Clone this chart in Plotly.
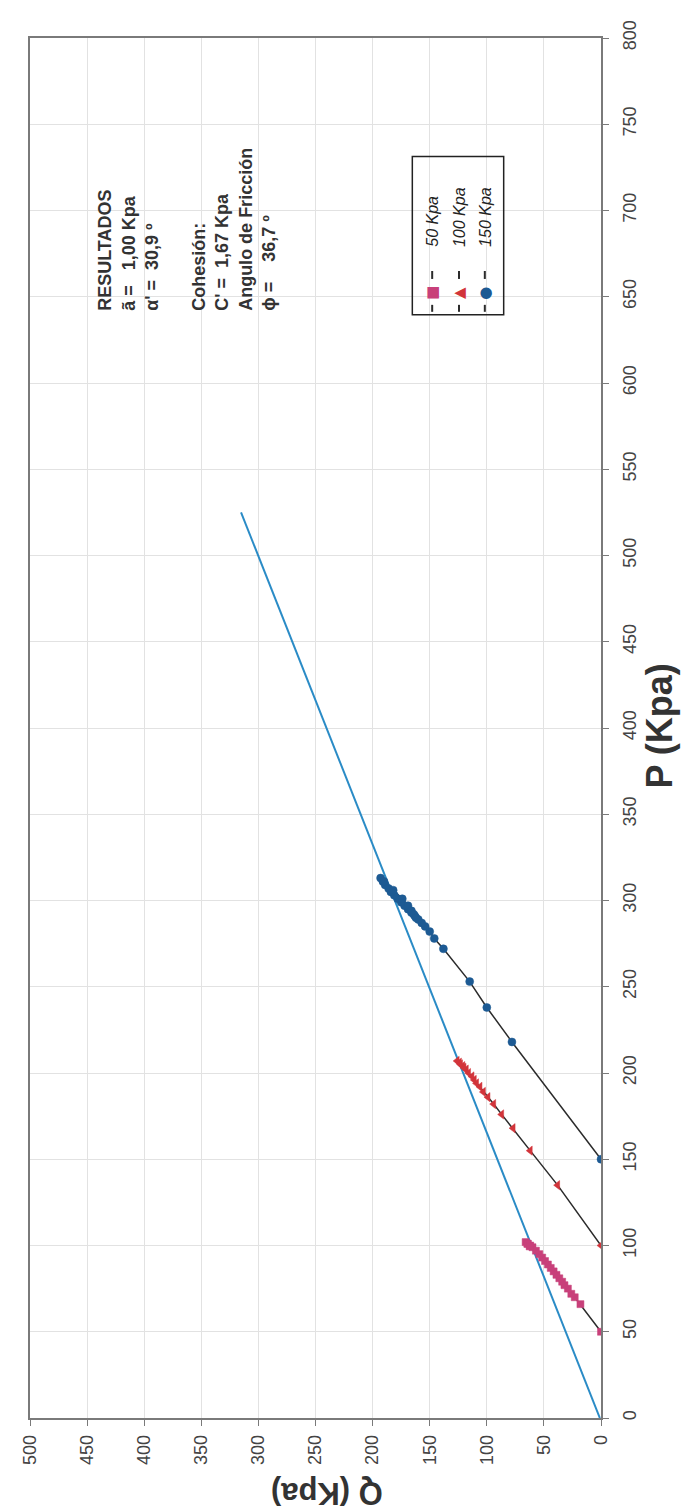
import plotly.graph_objects as go

# ---- data (P = x in original chart, Q = y) ----
p_env = [0, 525]
q_env = [1.0, 315.2]

p_50 = [50, 66, 70, 72, 75, 77, 79, 81, 83, 85, 87, 89, 91, 93, 95, 97, 99, 100, 101, 102, 101, 99.5]
q_50 = [0, 18, 23, 26, 29, 32, 34, 36.5, 39, 41.5, 44, 46.5, 49, 51.5, 54, 57, 60, 62, 64, 66, 64.5, 62.5]

p_100 = [100, 135, 155, 168, 176, 182, 186, 189, 192, 194, 196, 198, 200, 202, 204, 206, 207, 205, 203]
q_100 = [0, 38, 62, 77, 87, 94, 99, 103, 106, 109, 111, 113, 116, 118, 121, 124, 126, 123, 120]

p_150 = [150, 218, 238, 253, 272, 278, 282, 285, 287, 289, 291, 293, 295, 297, 299, 301, 303, 305,
         307, 309, 311, 313, 311, 306, 301, 297, 294, 292, 290]
q_150 = [0, 78, 100, 115, 138, 146, 150, 154, 157, 160, 163, 166, 169, 172, 175, 178, 181, 184,
         186, 189, 191, 193, 190, 182, 174, 169, 166, 164, 162]

series_names = ["50 Kpa", "100 Kpa", "150 Kpa"]
p_ticks = list(range(0, 801, 50))
q_ticks = list(range(0, 501, 50))

# ---- layout geometry (chart is shown rotated 90 deg CCW) ----
W, H = 689, 1512
L, R, T, B = 18, 593, 24, 1410


def px(x):
    return (x - L) / (R - L)


def py(y):
    return (B - y) / (B - T)


LINE = "#2b2b2b"
FONT = "Liberation Sans, Arial"
fig = go.Figure()

# envelope
fig.add_trace(go.Scatter(x=q_env, y=p_env, mode="lines",
                         line=dict(color="#2a8bc6", width=2), showlegend=False))

styles = [
    ("square", "#c8407a", 7),
    ("triangle-left", "#d2343a", 8),
    ("circle", "#1d5a93", 8),
]
for (pp, qq), (sym, col, sz) in zip([(p_50, q_50), (p_100, q_100), (p_150, q_150)], styles):
    fig.add_trace(go.Scatter(x=qq, y=pp, mode="lines+markers",
                             line=dict(color=LINE, width=1.5),
                             marker=dict(symbol=sym, color=col, size=sz,
                                         line=dict(color=col, width=0.5)),
                             showlegend=False))

axis_common = dict(showgrid=True, gridcolor="#e2e2e2", gridwidth=1,
                   showline=True, linecolor="#7a7a7a", linewidth=1.5, mirror=True,
                   ticks="outside", ticklen=6, tickcolor="#7a7a7a",
                   tickangle=-90, zeroline=False,
                   tickfont=dict(family=FONT, size=18, color="#444"))

fig.update_layout(
    width=W, height=H,
    margin=dict(l=L, r=W - R, t=T, b=H - B),
    paper_bgcolor="white", plot_bgcolor="white",
    xaxis=dict(range=[500, 0], tickvals=q_ticks, ticklabelstandoff=2, **axis_common),
    yaxis=dict(range=[0, 800], tickvals=p_ticks, side="right", ticklabelstandoff=6, **axis_common),
    showlegend=False,
)

ann = []
# axis titles
ann.append(dict(text="<b>P (Kpa)</b>", x=px(651), y=py(715), xref="paper", yref="paper",
                textangle=-90, showarrow=False, xanchor="center", yanchor="middle",
                font=dict(family=FONT, size=36, color="#333")))
ann.append(dict(text="<b>Q (Kpa)</b>", x=px(317), y=py(1486), xref="paper", yref="paper",
                textangle=180, showarrow=False, xanchor="center", yanchor="middle",
                font=dict(family=FONT, size=31, color="#333")))

# results text block
results = ("RESULTADOS<br>ã =   1,00 Kpa<br>α' =  30,9 º<br> <br>Cohesión:<br>"
           "C' =  1,67 Kpa<br>Angulo de Fricción<br>ϕ =    36,7 º")
ann.append(dict(text="<b>" + results + "</b>", x=px(82), y=py(300), xref="paper", yref="paper",
                textangle=-90, showarrow=False, xanchor="left", yanchor="bottom", align="left",
                font=dict(family=FONT, size=18, color="#333")))

# custom rotated legend
fig.add_shape(type="rect", xref="paper", yref="paper",
              x0=px(403), x1=px(495), y0=py(302), y1=py(143),
              line=dict(color="#222", width=1.5), fillcolor="rgba(255,255,255,0)")
leg_x = [423, 450, 476]
glyphs = ["■", "▲", "●"]
for lx, name, g, (sym, col, sz) in zip(leg_x, series_names, glyphs, styles):
    fig.add_shape(type="line", xref="paper", yref="paper",
                  x0=px(lx), x1=px(lx), y0=py(258), y1=py(266), line=dict(color=LINE, width=2))
    fig.add_shape(type="line", xref="paper", yref="paper",
                  x0=px(lx), x1=px(lx), y0=py(292), y1=py(299), line=dict(color=LINE, width=2))
    ann.append(dict(text=g, x=px(lx), y=py(280), xref="paper", yref="paper", textangle=-90,
                    showarrow=False, xanchor="center", yanchor="middle",
                    font=dict(family="DejaVu Sans", size=15, color=col)))
    ann.append(dict(text="<i>" + name + "</i>", x=px(lx), y=py(236), xref="paper", yref="paper",
                    textangle=-90, showarrow=False, xanchor="center", yanchor="bottom",
                    font=dict(family=FONT, size=16, color="#222")))

fig.update_layout(annotations=ann)
fig.write_html("out.html")
